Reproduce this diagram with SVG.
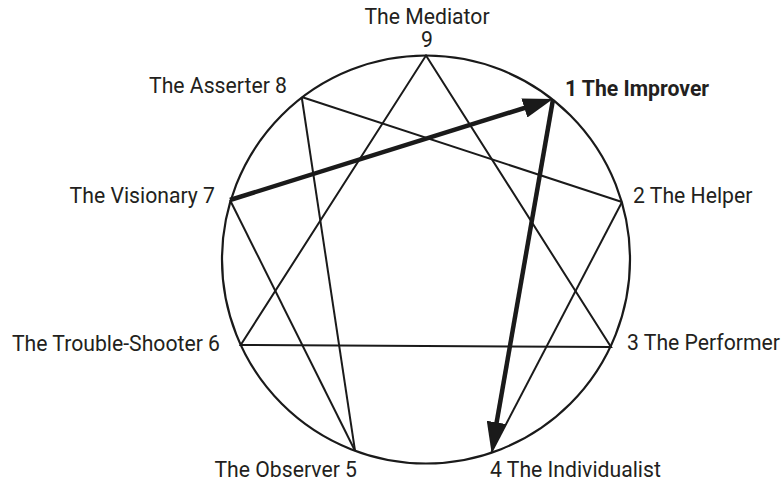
<svg xmlns="http://www.w3.org/2000/svg" width="783" height="483" viewBox="0 0 783 483">
<style>
  .lbl { font-family: Roboto, "Liberation Sans", sans-serif; font-size: 21.2px; fill: #231f20; }
  .b { font-weight: bold; }
  .thin { stroke: #1a1a1a; stroke-width: 2; fill: none; }
  .thick { stroke: #1a1a1a; stroke-width: 4.5; fill: none; marker-end: url(#ah); }
</style>
<defs>
  <marker id="ah" markerUnits="userSpaceOnUse" markerWidth="30" markerHeight="20" refX="10" refY="10" orient="auto">
    <path d="M0,0 L30,10 L0,20 z" fill="#1a1a1a"/>
  </marker>
</defs>
<rect width="783" height="483" fill="#ffffff"/>
<g id="circle">
  <circle cx="426" cy="259.5" r="204" fill="none" stroke="#1a1a1a" stroke-width="2.2"/>
</g>
<g id="connectors">
  <polygon class="thin" points="426,55.5 611,347 240.7,345"/>
  <line class="thin" x1="491.5" y1="452" x2="622" y2="202"/>
  <line class="thin" x1="622" y1="202" x2="301.7" y2="97"/>
  <line class="thin" x1="301.7" y1="97" x2="355" y2="450.7"/>
  <line class="thin" x1="355" y1="450.7" x2="230" y2="200"/>
  <line class="thick" x1="230" y1="200" x2="533.9" y2="105"/>
  <line class="thick" x1="553" y1="99.5" x2="494.9" y2="432.3"/>
</g>
<g id="n9"><text class="lbl" x="427" y="23.5" text-anchor="middle">The Mediator</text><text class="lbl" x="427" y="46.5" text-anchor="middle">9</text></g>
<g id="n1"><text class="lbl b" x="565" y="96">1 The Improver</text></g>
<g id="n2"><text class="lbl" x="633" y="203">2 The Helper</text></g>
<g id="n3"><text class="lbl" x="627" y="350">3 The Performer</text></g>
<g id="n4"><text class="lbl" x="490" y="477">4 The Individualist</text></g>
<g id="n5"><text class="lbl" x="357" y="477" text-anchor="end">The Observer 5</text></g>
<g id="n6"><text class="lbl" x="220" y="351" text-anchor="end">The Trouble-Shooter 6</text></g>
<g id="n7"><text class="lbl" x="215" y="203" text-anchor="end">The Visionary 7</text></g>
<g id="n8"><text class="lbl" x="287" y="93" text-anchor="end">The Asserter 8</text></g>
</svg>
